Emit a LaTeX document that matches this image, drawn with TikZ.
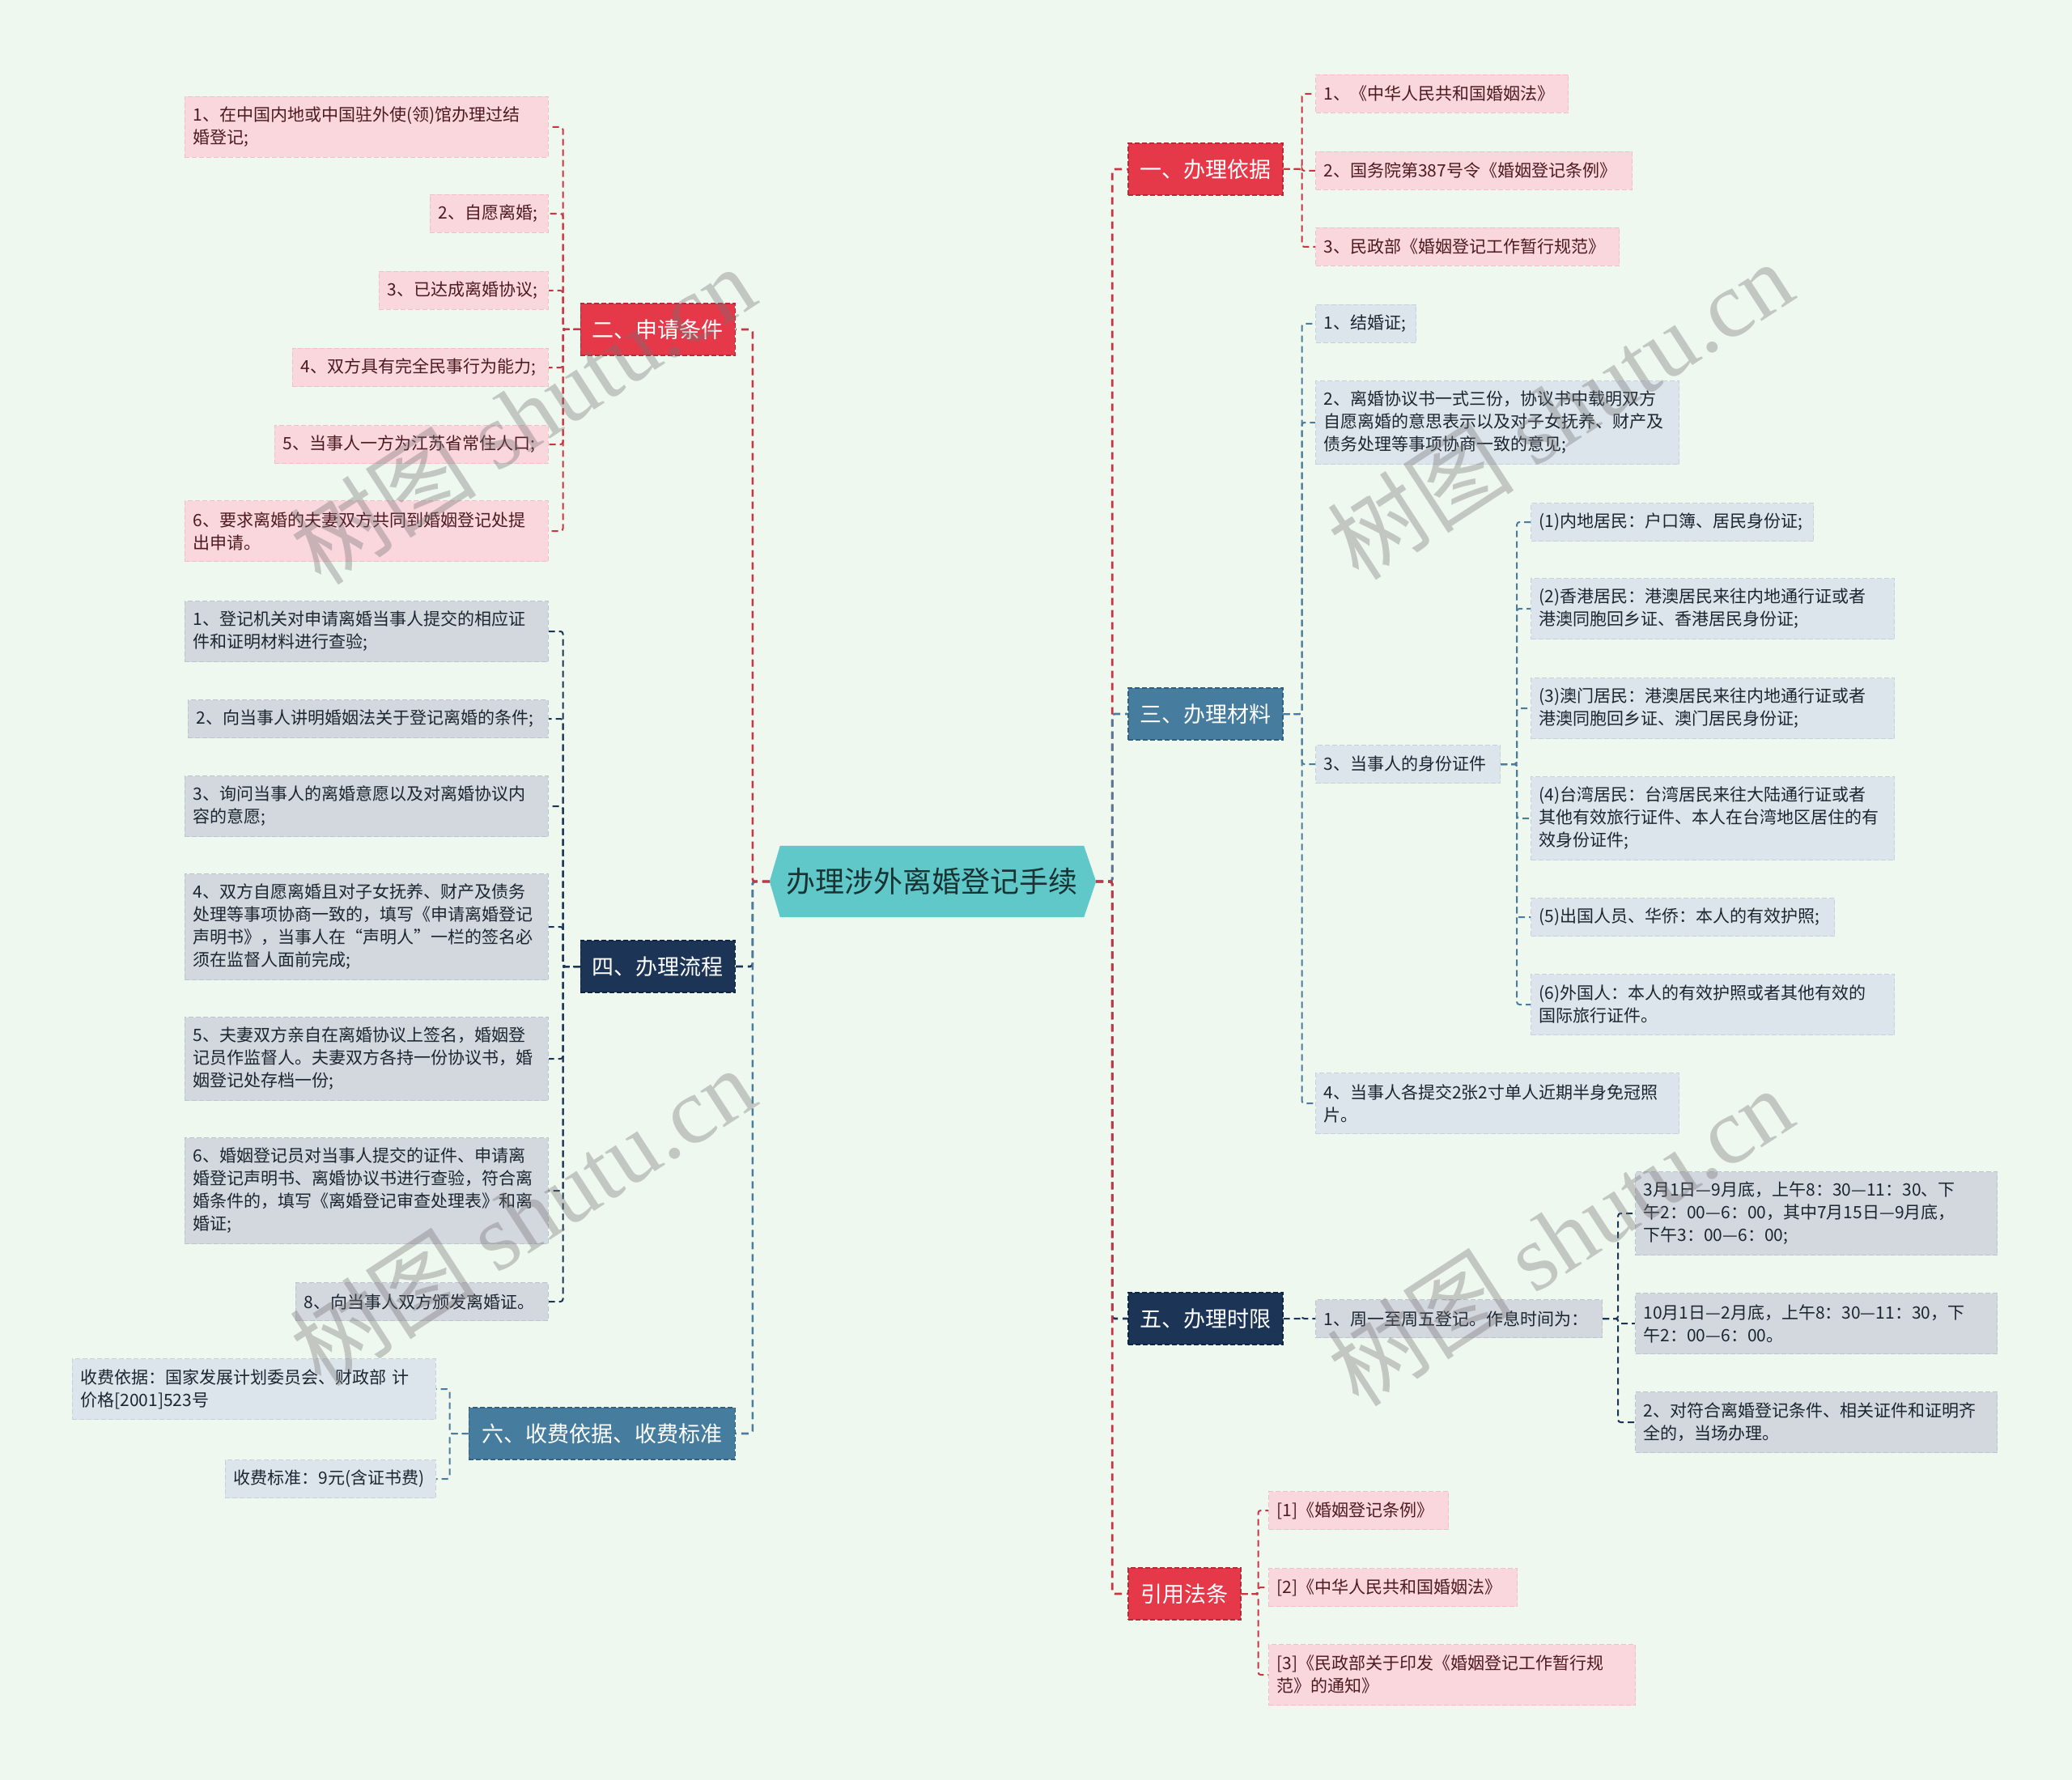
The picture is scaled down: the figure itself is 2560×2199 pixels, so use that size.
\documentclass[tikz,border=0pt]{standalone}
\usepackage{fontspec}
\setmainfont{Noto Sans CJK SC}
\newfontfamily\wmlatin{Liberation Serif}
\usetikzlibrary{backgrounds}
\definecolor{bgC}{HTML}{EFF8EE}
\definecolor{rootF}{HTML}{61C8CA}
\definecolor{rootT}{HTML}{183332}
\definecolor{redF}{HTML}{E5394A}
\definecolor{redD}{HTML}{B92A39}
\definecolor{redC}{HTML}{CB3442}
\definecolor{navyF}{HTML}{1C3557}
\definecolor{navyD}{HTML}{0F2440}
\definecolor{navyC}{HTML}{1C3557}
\definecolor{steelF}{HTML}{467C9E}
\definecolor{steelD}{HTML}{30617F}
\definecolor{steelC}{HTML}{4B7C9E}
\definecolor{pinkF}{HTML}{F9D7DD}
\definecolor{pinkD}{HTML}{F0C0C9}
\definecolor{pinkT}{HTML}{4E1A22}
\definecolor{blueF}{HTML}{DCE4EC}
\definecolor{blueD}{HTML}{C5D2DE}
\definecolor{grayF}{HTML}{D3D7DE}
\definecolor{grayD}{HTML}{BEC4CE}
\definecolor{darkT}{HTML}{1C2530}
\tikzset{
  bw/.code={\pgfmathsetmacro\tmpw{#1-20}\edef\tmpcmd{\noexpand\tikzset{text width=\tmpw pt}}\tmpcmd},
  leafbase/.style={rectangle, inner xsep=10pt, inner ysep=0pt, align=left,
    font=\fontsize{21}{28}\selectfont, dash pattern=on 6pt off 3pt, line width=1.2pt},
  pinkleaf/.style={leafbase, fill=pinkF, draw=pinkD, text=pinkT},
  blueleaf/.style={leafbase, fill=blueF, draw=blueD, text=darkT},
  grayleaf/.style={leafbase, fill=grayF, draw=grayD, text=darkT},
  Lone/.style={minimum height=47pt},
  Ltwo/.style={minimum height=75pt},
  Lthree/.style={minimum height=103pt},
  Lfour/.style={minimum height=131pt},
  mainbase/.style={rectangle, minimum height=64pt, inner xsep=0pt, inner ysep=0pt,
    font=\fontsize{27}{32}\selectfont, text=white, line width=1.5pt, dash pattern=on 6pt off 3pt},
  redmain/.style={mainbase, fill=redF, draw=redD},
  navymain/.style={mainbase, fill=navyF, draw=navyD},
  steelmain/.style={mainbase, fill=steelF, draw=steelD},
  rootnode/.style={rectangle, minimum width=375pt, minimum height=88pt, inner sep=0pt,
    font=\fontsize{36}{40}\selectfont, text=rootT},
  trunk/.style={line width=2.6pt, dash pattern=on 9pt off 6pt, rounded corners=3pt},
  twig/.style={line width=2pt, dash pattern=on 8pt off 5pt, rounded corners=3pt},
  wm/.style={font=\fontsize{116}{120}\selectfont, text=black!55, opacity=0.36, inner sep=0pt}
}
\begin{document}
\begin{tikzpicture}[x=1pt,y=-1pt]
\begin{pgfonlayer}{background}
\fill[bgC] (0,0) rectangle (2560,2199);
\end{pgfonlayer}
\useasboundingbox (0,0) rectangle (2560,2199);

% root
\node[rootnode] (root) at (1151.5,1089) {办理涉外离婚登记手续};
\begin{pgfonlayer}{background}
\fill[rootF] (root.north west) -- (root.north east) -- ([xshift=15pt]root.east) -- (root.south east)
  -- (root.south west) -- ([xshift=-13pt]root.west) -- cycle;
\end{pgfonlayer}

% main nodes
\node[redmain, anchor=west, minimum width=191pt] (m1) at (1393,209) {一、办理依据};
\node[steelmain, anchor=west, minimum width=191pt] (m3) at (1393,882) {三、办理材料};
\node[navymain, anchor=west, minimum width=191pt] (m5) at (1393,1629) {五、办理时限};
\node[redmain, anchor=west, minimum width=139pt] (m7) at (1393,1969) {引用法条};
\node[redmain, anchor=east, minimum width=191pt] (m2) at (909,407) {二、申请条件};
\node[navymain, anchor=east, minimum width=191pt] (m4) at (909,1194) {四、办理流程};
\node[steelmain, anchor=east, minimum width=329pt] (m6) at (909,1771) {六、收费依据、收费标准};

% branch 1
\node[pinkleaf, Lone, bw=312, anchor=west] (a1) at (1625,116) {1、《中华人民共和国婚姻法》};
\node[pinkleaf, Lone, bw=391, anchor=west] (a2) at (1625,211) {2、国务院第387号令《婚姻登记条例》};
\node[pinkleaf, Lone, bw=375, anchor=west] (a3) at (1625,305) {3、民政部《婚姻登记工作暂行规范》};

% branch 3
\node[blueleaf, Lone, bw=124, anchor=west] (c1) at (1625,400) {1、结婚证;};
\node[blueleaf, Lthree, bw=449, anchor=west] (c2) at (1625,522) {2、离婚协议书一式三份，协议书中载明双方\\自愿离婚的意思表示以及对子女抚养、财产及\\债务处理等事项协商一致的意见;};
\node[blueleaf, Lone, bw=228, anchor=west] (c3) at (1625,944) {3、当事人的身份证件};
\node[blueleaf, Ltwo, bw=449, anchor=west] (c4) at (1625,1363) {4、当事人各提交2张2寸单人近期半身免冠照\\片。};
\node[blueleaf, Lone, bw=349, anchor=west] (d1) at (1891,645) {(1)内地居民：户口簿、居民身份证;};
\node[blueleaf, Ltwo, bw=449, anchor=west] (d2) at (1891,752) {(2)香港居民：港澳居民来往内地通行证或者\\港澳同胞回乡证、香港居民身份证;};
\node[blueleaf, Ltwo, bw=449, anchor=west] (d3) at (1891,875) {(3)澳门居民：港澳居民来往内地通行证或者\\港澳同胞回乡证、澳门居民身份证;};
\node[blueleaf, Lthree, bw=449, anchor=west] (d4) at (1891,1011) {(4)台湾居民：台湾居民来往大陆通行证或者\\其他有效旅行证件、本人在台湾地区居住的有\\效身份证件;};
\node[blueleaf, Lone, bw=375, anchor=west] (d5) at (1891,1133) {(5)出国人员、华侨：本人的有效护照;};
\node[blueleaf, Ltwo, bw=449, anchor=west] (d6) at (1891,1241) {(6)外国人：本人的有效护照或者其他有效的\\国际旅行证件。};

% branch 5
\node[grayleaf, Lone, bw=354, anchor=west] (e1) at (1625,1629) {1、周一至周五登记。作息时间为：};
\node[grayleaf, Lthree, bw=447, anchor=west] (f1) at (2020,1499) {3月1日—9月底，上午8：30—11：30、下\\午2：00—6：00，其中7月15日—9月底，\\下午3：00—6：00;};
\node[grayleaf, Ltwo, bw=447, anchor=west] (f2) at (2020,1635) {10月1日—2月底，上午8：30—11：30，下\\午2：00—6：00。};
\node[grayleaf, Ltwo, bw=447, anchor=west] (f3) at (2020,1757) {2、对符合离婚登记条件、相关证件和证明齐\\全的，当场办理。};

% branch 7
\node[pinkleaf, Lone, bw=222, anchor=west] (g1) at (1567,1866) {[1]《婚姻登记条例》};
\node[pinkleaf, Lone, bw=307, anchor=west] (g2) at (1567,1961) {[2]《中华人民共和国婚姻法》};
\node[pinkleaf, Ltwo, bw=453, anchor=west] (g3) at (1567,2069) {[3]《民政部关于印发《婚姻登记工作暂行规\\范》的通知》};

% branch 2
\node[pinkleaf, Ltwo, bw=449, anchor=east] (h1) at (678,157) {1、在中国内地或中国驻外使(领)馆办理过结\\婚登记;};
\node[pinkleaf, Lone, bw=146, anchor=east] (h2) at (678,264) {2、自愿离婚;};
\node[pinkleaf, Lone, bw=209, anchor=east] (h3) at (678,359) {3、已达成离婚协议;};
\node[pinkleaf, Lone, bw=316, anchor=east] (h4) at (678,454) {4、双方具有完全民事行为能力;};
\node[pinkleaf, Lone, bw=338, anchor=east] (h5) at (678,549) {5、当事人一方为江苏省常住人口;};
\node[pinkleaf, Ltwo, bw=449, anchor=east] (h6) at (678,656) {6、要求离婚的夫妻双方共同到婚姻登记处提\\出申请。};

% branch 4
\node[grayleaf, Ltwo, bw=449, anchor=east] (i1) at (678,780) {1、登记机关对申请离婚当事人提交的相应证\\件和证明材料进行查验;};
\node[grayleaf, Lone, bw=445, anchor=east] (i2) at (678,888) {2、向当事人讲明婚姻法关于登记离婚的条件;};
\node[grayleaf, Ltwo, bw=449, anchor=east] (i3) at (678,996) {3、询问当事人的离婚意愿以及对离婚协议内\\容的意愿;};
\node[grayleaf, Lfour, bw=449, anchor=east] (i4) at (678,1145) {4、双方自愿离婚且对子女抚养、财产及债务\\处理等事项协商一致的，填写《申请离婚登记\\声明书》，当事人在“声明人”一栏的签名必\\须在监督人面前完成;};
\node[grayleaf, Lthree, bw=449, anchor=east] (i5) at (678,1308) {5、夫妻双方亲自在离婚协议上签名，婚姻登\\记员作监督人。夫妻双方各持一份协议书，婚\\姻登记处存档一份;};
\node[grayleaf, Lfour, bw=449, anchor=east] (i6) at (678,1471) {6、婚姻登记员对当事人提交的证件、申请离\\婚登记声明书、离婚协议书进行查验，符合离\\婚条件的，填写《离婚登记审查处理表》和离\\婚证;};
\node[grayleaf, Lone, bw=312, anchor=east] (i7) at (678,1608) {8、向当事人双方颁发离婚证。};

% branch 6
\node[blueleaf, Ltwo, bw=449, anchor=east] (j1) at (539,1716) {收费依据：国家发展计划委员会、财政部~计\\价格[2001]523号};
\node[blueleaf, Lone, bw=260, anchor=east] (j2) at (539,1827) {收费标准：9元(含证书费)};

% trunk connectors
\draw[trunk, navyC] ([xshift=-13pt]root.west) -- ++(-21,0) |- (m4.east);
\draw[trunk, steelC] ([xshift=-13pt]root.west) -- ++(-21,0) |- (m6.east);
\draw[trunk, redC] ([xshift=-13pt]root.west) -- ++(-21,0) |- (m2.east);
\draw[trunk, redC] ([xshift=15pt]root.east) -- ++(20,0) |- (m1.west);
\draw[trunk, steelC] ([xshift=15pt]root.east) -- ++(20,0) |- (m3.west);
\draw[trunk, navyC] ([xshift=15pt]root.east) -- ++(20,0) |- (m5.west);
\draw[trunk, redC] ([xshift=15pt]root.east) -- ++(20,0) |- (m7.west);

% twig connectors
\foreach \c in {a1,a2,a3} \draw[twig, redC] (m1.east) -- ++(23,0) |- (\c.west);
\foreach \c in {c1,c2,c3,c4} \draw[twig, steelC] (m3.east) -- ++(23,0) |- (\c.west);
\foreach \c in {d1,d2,d3,d4,d5,d6} \draw[twig, steelC] (c3.east) -- ++(20,0) |- (\c.west);
\draw[twig, navyC] (m5.east) -- ++(23,0) |- (e1.west);
\foreach \c in {f1,f2,f3} \draw[twig, navyC] (e1.east) -- ++(19,0) |- (\c.west);
\foreach \c in {g1,g2,g3} \draw[twig, redC] (m7.east) -- ++(21,0) |- (\c.west);
\foreach \c in {h1,h2,h3,h4,h5,h6} \draw[twig, redC] (m2.west) -- ++(-21,0) |- (\c.east);
\foreach \c in {i1,i2,i3,i4,i5,i6,i7} \draw[twig, navyC] (m4.west) -- ++(-21,0) |- (\c.east);
\foreach \c in {j1,j2} \draw[twig, steelC] (m6.west) -- ++(-23,0) |- (\c.east);

% watermarks
\node[wm, rotate=33] (w1) at (645,512) {树图 {\wmlatin shutu.cn}};
\node[wm, rotate=33] (w2) at (1927,506) {树图 {\wmlatin shutu.cn}};
\node[wm, rotate=33] (w3) at (645,1502) {树图 {\wmlatin shutu.cn}};
\node[wm, rotate=33] (w4) at (1927,1527) {树图 {\wmlatin shutu.cn}};
\end{tikzpicture}
\end{document}
